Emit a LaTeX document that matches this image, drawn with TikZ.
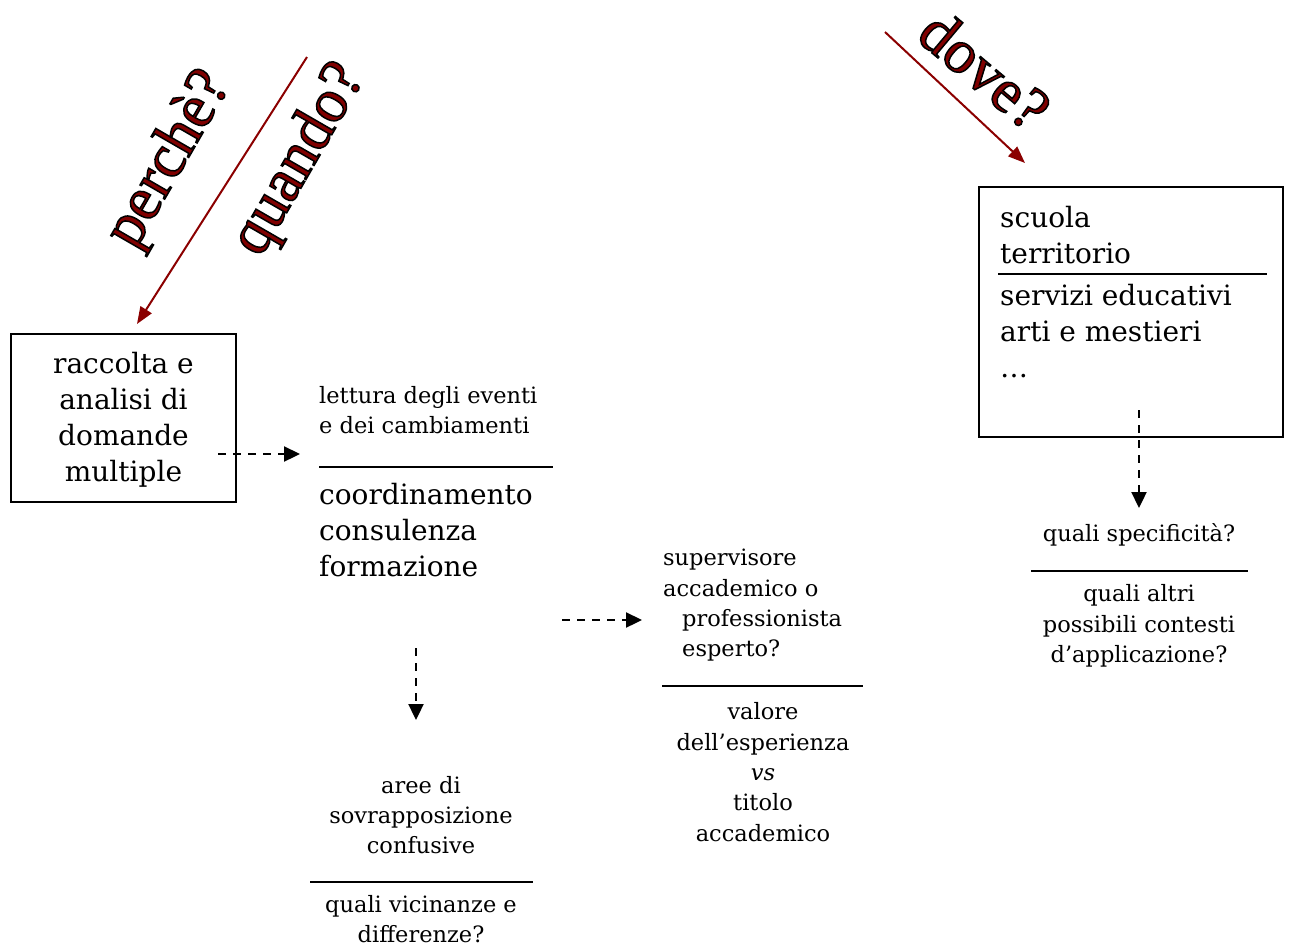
\documentclass[tikz,border=0pt]{standalone}
\usepackage{fontspec}
\setmainfont{DejaVu Serif}
\newfontfamily\qfont{Liberation Serif}
\usetikzlibrary{arrows.meta}
\definecolor{dred}{HTML}{8B0000}
\definecolor{tred}{HTML}{800000}
\newcommand{\bigtxt}{\fontsize{28}{36}\selectfont}
\newcommand{\smtxt}{\fontsize{22.5}{30.3}\selectfont}
\newcommand{\qtxt}[1]{\textcolor{tred}{\special{pdf:code 2 Tr 1.5 w 0 0 0 RG}#1\special{pdf:code 0 Tr}}}
\begin{document}
\begin{tikzpicture}[x=1pt,y=-1pt,
  box/.style={draw=black,line width=1.6pt,inner sep=0pt},
  bigt/.style={inner sep=0pt,font=\bigtxt},
  smt/.style={inner sep=0pt,font=\smtxt},
  rulel/.style={line width=2.2pt},
  dasharrow/.style={line width=2.3pt,dash pattern=on 8pt off 7pt,-{Triangle[length=16pt,width=15pt]}},
  redarrow/.style={draw=dred,line width=2pt,-{Triangle[length=17pt,width=13pt]}},
  qlab/.style={inner sep=0pt,font=\qfont\fontsize{62}{66}\selectfont}]
\useasboundingbox (0,0) rectangle (1291,946);
% question labels
\node[qlab,rotate=60] (perche) at (170,160) {\qtxt{perchè?}};
\node[qlab,rotate=60] (quando) at (300,160) {\qtxt{quando?}};
\node[qlab,rotate=-40] (dove) at (985,70) {\qtxt{dove?}};
\coordinate (r1s) at (307,57);
\coordinate (r1e) at (137,324);
\draw[redarrow] (r1s) -- (r1e);
\coordinate (r2s) at (885,32);
\coordinate (r2e) at (1025,163);
\draw[redarrow] (r2s) -- (r2e);
% left box
\node[box,minimum width=225pt,minimum height=168pt] (b1) at (123.5,418) {};
\node[bigt,align=center] (t1) at (123.5,420) {raccolta e\\analisi di\\domande\\multiple};
\coordinate (a1s) at (218,454);
\coordinate (a1e) at (300,454);
\draw[dasharrow] (a1s) -- (a1e);
% second block
\node[smt,anchor=west,align=left] (t2a) at (319,410) {lettura degli eventi\\e dei cambiamenti};
\draw[rulel] (319,467) -- (553,467);
\node[bigt,anchor=west,align=left] (t2b) at (319,530) {coordinamento\\consulenza\\formazione};
\coordinate (a2s) at (416,648);
\coordinate (a2e) at (416,720);
\draw[dasharrow] (a2s) -- (a2e);
% third block
\node[smt,align=center] (t3a) at (421,815) {aree di\\sovrapposizione\\confusive};
\draw[rulel] (310,882) -- (533,882);
\node[smt,align=center] (t3b) at (421,919) {quali vicinanze e\\differenze?};
% arrow to supervisor
\coordinate (a3s) at (562,620);
\coordinate (a3e) at (642,620);
\draw[dasharrow] (a3s) -- (a3e);
\node[smt,anchor=west,align=left] (t4a) at (663,605.5) {supervisore\\accademico o\\\hspace*{19pt}professionista\\\hspace*{19pt}esperto?};
\draw[rulel] (662,686) -- (863,686);
\node[smt,align=center] (t4b) at (763,772) {valore\\dell’esperienza\\\textit{vs}\\titolo\\accademico};
% right box
\node[box,minimum width=304pt,minimum height=250pt] (b2) at (1131,312) {};
\node[bigt,anchor=west,align=left] (t5a) at (1000,235.5) {scuola\\territorio};
\draw[rulel] (998,274) -- (1267,274);
\node[bigt,anchor=west,align=left] (t5b) at (1000,331) {servizi educativi\\arti e mestieri\\\ldots};
\coordinate (a4s) at (1139,410);
\coordinate (a4e) at (1139,508);
\draw[dasharrow] (a4s) -- (a4e);
\node[smt,align=center] (t6a) at (1139,535) {quali specificità?};
\draw[rulel] (1031,571) -- (1248,571);
\node[smt,align=center] (t6b) at (1139,626) {quali altri\\possibili contesti\\d’applicazione?};
\end{tikzpicture}
\end{document}
